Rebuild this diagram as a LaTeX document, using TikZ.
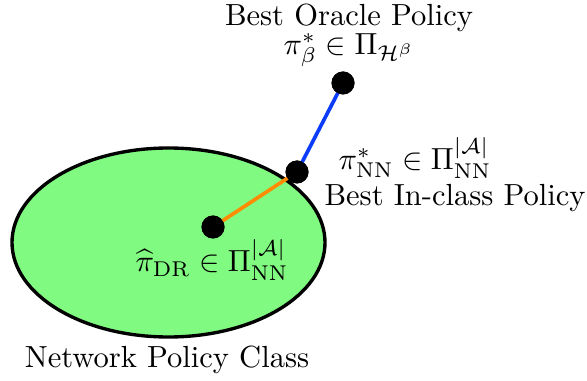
\documentclass[tikz,border=0pt]{standalone}
\usepackage{amsmath,amssymb}
\definecolor{lineblue}{RGB}{10,60,250}
\definecolor{lineorange}{RGB}{255,140,0}
\definecolor{classgreen}{RGB}{128,250,128}
\begin{document}
\begin{tikzpicture}[x=0.0115cm,y=-0.0115cm,
  dot/.style={circle,fill=black,inner sep=0pt,minimum size=23*0.0115cm},
  lbl/.style={inner sep=0pt,align=center}]
\useasboundingbox (0,0) rectangle (587,381);
\draw[line width=1.1pt,fill=classgreen] (168.5,242.5) ellipse [x radius=156.5, y radius=94.5];
\node[dot] (orc) at (343,83) {};
\node[dot] (inc) at (297,172) {};
\node[dot] (dr) at (213,227) {};
\draw[lineblue,line width=1.2pt] (inc.center) -- (orc.center);
\draw[lineorange,line width=1.2pt] (dr.center) -- (inc.center);
\node[dot] at (inc) {};
\node[dot] at (dr) {};
\node[dot] at (orc) {};
\node[lbl] (t1) at (349,18) {Best Oracle Policy};
\node[lbl] (t2) at (349,50) {$\pi^*_\beta \in \Pi_{\mathcal{H}^\beta}$};
\node[lbl,anchor=west] (t3) at (338,158) {$\pi^*_{\mathrm{NN}} \in \Pi^{|\mathcal{A}|}_{\mathrm{NN}}$};
\node[lbl] (t4) at (455,198) {Best In-class Policy};
\node[lbl] (t5) at (212,260) {$\widehat{\pi}_{\mathrm{DR}} \in \Pi^{|\mathcal{A}|}_{\mathrm{NN}}$};
\node[lbl] (t6) at (167,360) {Network Policy Class};
\end{tikzpicture}
\end{document}
